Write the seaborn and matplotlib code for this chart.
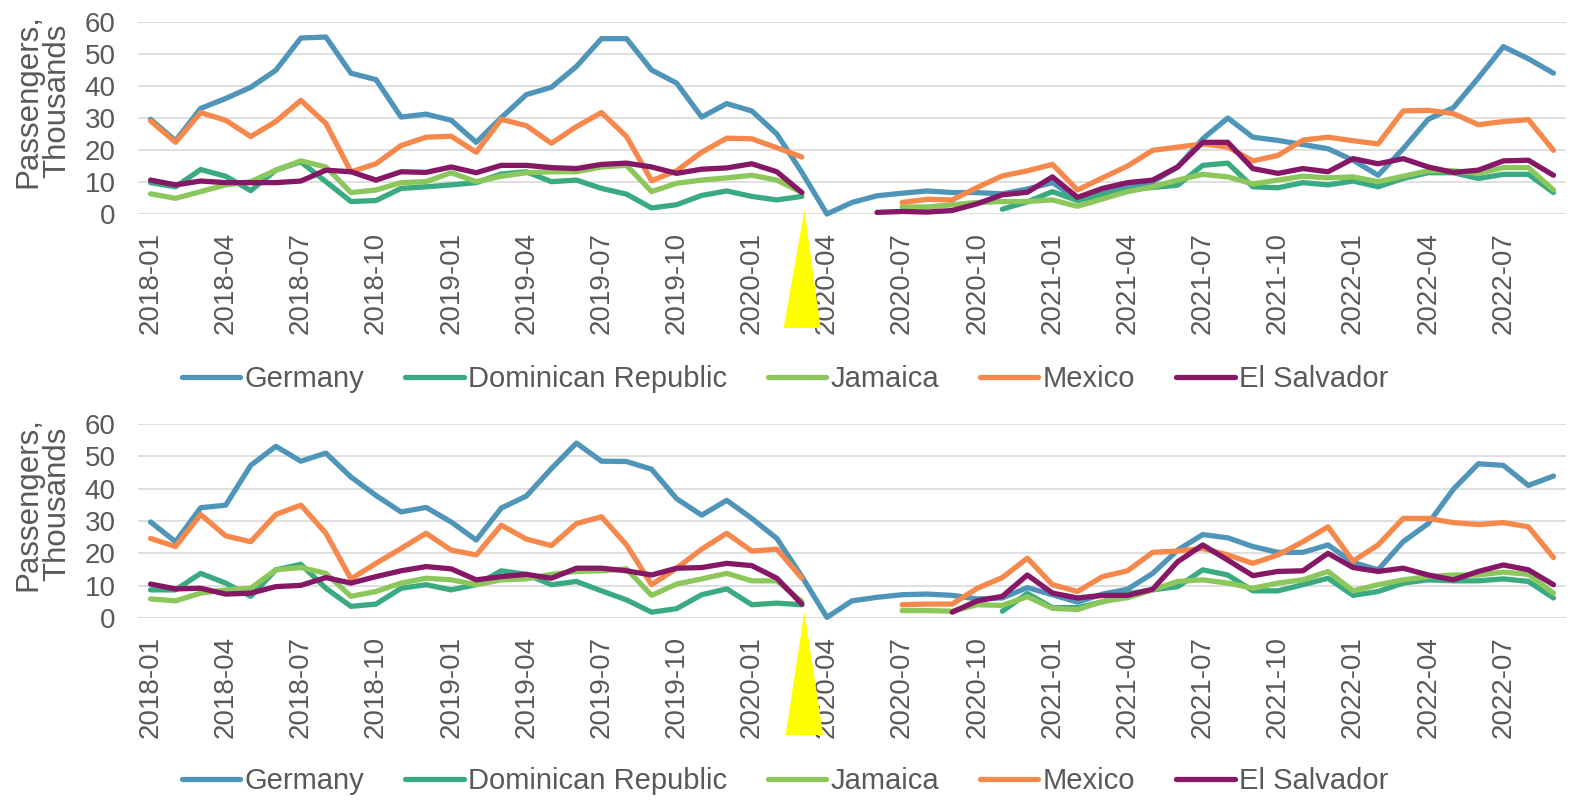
import numpy as np
import pandas as pd
import matplotlib
matplotlib.use("Agg")
import matplotlib.pyplot as plt
from matplotlib.lines import Line2D
from matplotlib.patches import Polygon
import matplotlib.transforms as mtransforms
import seaborn as sns

nan = np.nan

months = pd.period_range("2018-01", "2022-09", freq="M").strftime("%Y-%m").tolist()
countries = ["Germany", "Dominican Republic", "Jamaica", "Mexico", "El Salvador"]
colors = ["#4F95B9", "#3AAA80", "#8BC75A", "#F5884A", "#861666"]

# ---------------- top panel (thousands of passengers) ----------------
germany_top = [29.6, 22.9, 33, 36.1, 39.6, 44.9, 55, 55.3, 44, 42, 30.3, 31.2,
               29.3, 22.4, 30.1, 37.3, 39.6, 46.1, 54.8, 54.8, 45, 40.9, 30.3, 34.5,
               32.2, 25, 13, 0, 3.6, 5.7, 6.5, 7.2, 6.7, 6.7, 6.3, 7.8,
               9.8, 4.6, 6.7, 8.5, 10, 14.7, 23.5, 30, 24, 23, 21.7, 20.4,
               16.8, 12.1, 20.4, 29.6, 33.2, 42.5, 52.3, 48.5, 44]
dominican_top = [9.8, 8.5, 13.9, 11.8, 7.3, 13.7, 16.3, 10.1, 3.9, 4.2, 8, 8.5,
                 9.1, 9.8, 12.5, 13.2, 10.1, 10.6, 8, 6.2, 1.9, 2.9, 5.8, 7.2,
                 5.5, 4.4, 5.5, nan, nan, nan, nan, nan, nan, nan, 1.5, 3.8,
                 7, 4.2, 6, 7.5, 8.3, 9, 15.2, 15.9, 8.5, 8.2, 9.8, 9.1,
                 10.3, 8.5, 11.1, 12.9, 12.9, 11.1, 12.4, 12.4, 6.7]
jamaica_top = [6.3, 4.9, 7, 9.1, 10.1, 13.7, 16.6, 14.7, 6.7, 7.5, 9.8, 10.1,
               12.9, 10.1, 11.8, 12.9, 13.2, 13.2, 14.7, 15.2, 7, 9.6, 10.6, 11.3,
               12.1, 10.6, 6.7, nan, nan, nan, 2.2, 2.2, 2.9, 3.6, 3.9, 3.9,
               4.4, 2.4, 4.7, 7, 8.5, 10.6, 12.4, 11.6, 9.4, 10.6, 11.8, 11.3,
               11.6, 10.1, 11.8, 13.5, 13.5, 12.7, 14.5, 14.5, 7.5]
mexico_top = [29.1, 22.4, 31.7, 29.3, 24.2, 28.9, 35.5, 28.3, 13.2, 15.7, 21.4, 24,
              24.3, 19.3, 29.6, 27.6, 22.1, 27.3, 31.7, 24.2, 10.4, 13.5, 19.3, 23.7,
              23.5, 20.7, 17.8, nan, nan, nan, 3.6, 4.6, 4.4, 8.3, 11.9, 13.5,
              15.5, 7.5, 11.3, 15, 19.9, 20.9, 21.9, 20.9, 16.6, 18.3, 23.1, 24,
              22.9, 21.9, 32.2, 32.4, 31.4, 27.9, 28.9, 29.5, 19.9]
salvador_top = [10.6, 9.1, 10.3, 9.8, 9.8, 9.8, 10.3, 13.7, 13.2, 10.6, 13.2, 13,
                14.7, 12.9, 15.2, 15.2, 14.5, 14.2, 15.5, 15.9, 14.7, 12.7, 14, 14.4,
                15.7, 13.2, 6.7, nan, nan, 0.5, 0.8, 0.6, 1.1, 3.2, 6, 6.8,
                11.6, 5.2, 8, 9.8, 10.6, 14.7, 22.4, 22.4, 14.2, 12.7, 14.2, 13.2,
                17.3, 15.7, 17.3, 14.7, 13, 13.7, 16.6, 16.8, 12.1]

# ---------------- bottom panel ----------------
germany_bot = [29.7, 23.6, 34.1, 34.9, 47.2, 53.1, 48.5, 51, 43.6, 37.9, 32.8, 34.2,
               29.7, 24.1, 34, 37.7, 46.2, 54.1, 48.5, 48.4, 46, 36.9, 31.8, 36.4,
               30.8, 24.6, 12.8, 0.2, 5.3, 6.4, 7.2, 7.4, 7, 5.9, 6.2, 9.4,
               7.2, 4.9, 7.4, 8.9, 13.8, 21, 25.8, 24.8, 22.1, 20.3, 20.3, 22.6,
               17.2, 14.9, 23.6, 29.2, 39.8, 47.7, 47.2, 41, 43.9]
dominican_bot = [8.7, 8.7, 13.8, 10.8, 6.7, 14.9, 16.6, 9.2, 3.6, 4.3, 9.2, 10.3,
                 8.7, 10.3, 14.6, 13.5, 10.3, 11.3, 8.4, 5.6, 1.8, 2.9, 7.2, 9,
                 4.1, 4.6, 4.1, nan, nan, nan, nan, nan, nan, nan, 2.1, 7.6,
                 3.2, 3.2, 5, 7.5, 8.7, 9.7, 14.9, 13.3, 8.4, 8.4, 10.3, 12.3,
                 7, 8.2, 10.8, 11.8, 11.5, 11.5, 12.1, 11.3, 6.2]
jamaica_bot = [5.9, 5.3, 7.7, 8.7, 9.2, 14.9, 15.6, 13.8, 6.7, 8.2, 10.8, 12.3,
               11.8, 10.3, 11.8, 12.1, 13.5, 14.4, 14.6, 15.2, 7, 10.5, 12.1, 13.8,
               11.5, 11.5, 5.1, nan, nan, nan, 2.3, 2.3, 2.1, 4.1, 3.9, 6.6,
               3, 2.6, 5.1, 6.3, 8.7, 11.3, 11.8, 10.8, 9.2, 10.8, 11.8, 14.4,
               8.4, 10.3, 11.8, 12.8, 13.3, 13.3, 14.2, 13.5, 7.7]
mexico_bot = [24.6, 22.1, 32, 25.4, 23.6, 32, 34.9, 26.2, 12.1, 16.9, 21.5, 26.2,
              21, 19.5, 28.7, 24.4, 22.4, 29.2, 31.3, 22.6, 10.3, 15.4, 21.3, 26.2,
              20.7, 21.3, 12.3, nan, nan, nan, 4.1, 4.3, 4.3, 9.2, 12.5, 18.5,
              10.3, 8.2, 12.8, 14.6, 20.3, 20.7, 21.5, 19.5, 16.9, 19.5, 23.6, 28.2,
              17.6, 22.6, 30.8, 30.8, 29.5, 28.9, 29.5, 28.2, 18.7]
salvador_bot = [10.5, 9, 9.2, 7.4, 7.7, 9.7, 10.1, 12.5, 10.8, 12.8, 14.6, 15.9,
                15.2, 11.8, 12.8, 13.5, 12.3, 15.4, 15.4, 14.6, 13.3, 15.4, 15.6, 16.9,
                16.2, 12.3, 4.3, nan, nan, nan, nan, nan, 1.8, 5.3, 6.7, 13.3,
                7.7, 6.2, 7, 7, 8.9, 17.4, 22.6, 17.9, 13.1, 14.4, 14.6, 20,
                15.6, 14.4, 15.4, 13.3, 11.8, 14.4, 16.4, 14.9, 10.3]

y_ticks = [0, 10, 20, 30, 40, 50, 60]
y_label = "Passengers,\nThousands"
tick_step = 3

sns.set_style("white")
plt.rcParams["font.family"] = ["Liberation Sans", "DejaVu Sans"]

W, H = 1575, 801
fig = plt.figure(figsize=(W / 100, H / 100), dpi=100)
TXT = "#595959"


def add_ax(left, right, top, bottom):
    return fig.add_axes([left / W, 1 - bottom / H, (right - left) / W, (bottom - top) / H])


def long_frame(series):
    rows = []
    for name, vals in zip(countries, series):
        seg, gap = 0, False
        for i, v in enumerate(vals):
            if np.isnan(v):
                gap = True
                continue
            if gap:
                seg += 1
                gap = False
            rows.append((i, v, name, seg))
    return pd.DataFrame(rows, columns=["idx", "val", "country", "seg"])


def draw_panel(ax, series, tri, label_y, legend_y):
    df = long_frame(series)
    sns.lineplot(data=df, x="idx", y="val", hue="country", units="seg",
                 estimator=None, hue_order=countries,
                 palette=dict(zip(countries, colors)), lw=3.8, legend=False,
                 ax=ax, solid_joinstyle="round", solid_capstyle="round",
                 clip_on=False, zorder=3)
    ax.set_xlim(-0.5, len(months) - 0.5)
    ax.set_ylim(y_ticks[0], y_ticks[-1])
    ax.set_yticks(y_ticks)
    xt = list(range(0, len(months), tick_step))
    ax.set_xticks(xt)
    ax.set_xticklabels([months[i] for i in xt], rotation=90)
    ax.grid(axis="y", color="#D9D9D9", lw=1.2)
    ax.grid(axis="x", visible=False)
    ax.set_axisbelow(True)
    for s in ax.spines.values():
        s.set_visible(False)
    ax.tick_params(length=0, labelsize=20, labelcolor=TXT)
    ax.tick_params(axis="x", pad=13)
    ax.tick_params(axis="y", pad=16)
    ax.set_xlabel("")
    ax.set_ylabel("")
    trans = mtransforms.blended_transform_factory(ax.transData, ax.transAxes)
    ax.add_patch(Polygon(tri, closed=True, facecolor="#FFFF00", edgecolor="none",
                         transform=trans, clip_on=False, zorder=10))
    fig.text(42.5 / W, 1 - label_y / H, y_label, rotation=90, ha="center",
             va="center", fontsize=22.5, color=TXT, linespacing=0.95)
    handles = [Line2D([], [], color=c, lw=3.8, solid_capstyle="round") for c in colors]
    fig.legend(handles, countries, loc="center",
               bbox_to_anchor=(0.4985, 1 - legend_y / H), ncol=5, frameon=False,
               fontsize=21, handlelength=2.0, handletextpad=0.15,
               columnspacing=1.4, labelcolor=TXT, borderaxespad=0, borderpad=0)


ax_top = add_ax(138, 1566, 22, 214)
ax_bot = add_ax(138, 1566, 424, 618)

draw_panel(ax_top, [germany_top, dominican_top, jamaica_top, mexico_top, salvador_top],
           [[26.1, 0.02], [25.27, -0.594], [26.75, -0.594]], 101, 379)
draw_panel(ax_bot, [germany_bot, dominican_bot, jamaica_bot, mexico_bot, salvador_bot],
           [[26.1, 0.031], [25.35, -0.603], [26.85, -0.603]], 504, 781)

fig.savefig("out.png", dpi=100)
